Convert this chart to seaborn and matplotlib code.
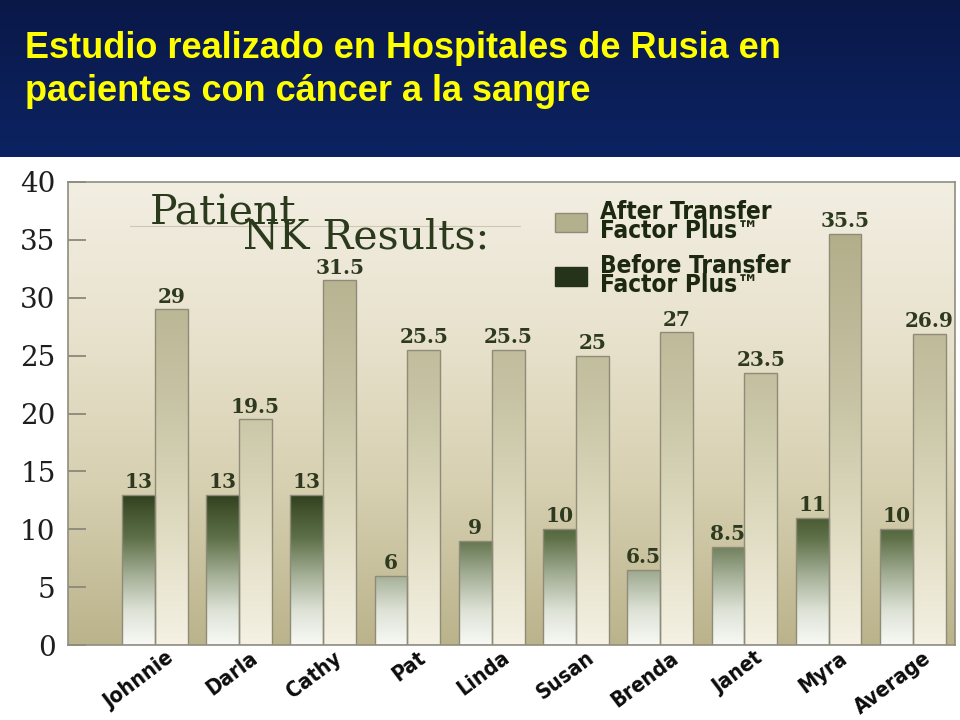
import numpy as np
import pandas as pd
import seaborn as sns
import matplotlib.pyplot as plt
from matplotlib.colors import LinearSegmentedColormap
from matplotlib.patches import Patch
from matplotlib.transforms import ScaledTranslation

# Data
patients = ['Johnnie', 'Darla', 'Cathy', 'Pat', 'Linda', 'Susan', 'Brenda', 'Janet', 'Myra', 'Average']
before = [13, 13, 13, 6, 9, 10, 6.5, 8.5, 11, 10]
after = [29, 19.5, 31.5, 25.5, 25.5, 25, 27, 23.5, 35.5, 26.9]
y_ticks = [0, 5, 10, 15, 20, 25, 30, 35, 40]

df = pd.DataFrame({
    'Patient': patients * 2,
    'NK': before + after,
    'When': ['Before'] * len(patients) + ['After'] * len(patients),
})

sns.set_style("white")
fig = plt.figure(figsize=(9.6, 7.2), dpi=100)

narrow = ['DejaVu Sans Condensed', 'Liberation Sans Narrow', 'DejaVu Sans']

# dark blue header band
head = fig.add_axes([0, 1 - 157 / 720, 1, 157 / 720])
head_cmap = LinearSegmentedColormap.from_list('head', ['#0a1848', '#0c2362'])
head.imshow(np.linspace(0, 1, 64).reshape(-1, 1), cmap=head_cmap, aspect='auto', extent=[0, 1, 0, 1])
head.axis('off')

title_font = dict(color='#ffff00', fontsize=26, fontweight='bold', family=['Liberation Sans', 'DejaVu Sans'])
fig.text(25 / 960, 1 - 58 / 720, 'Estudio realizado en Hospitales de Rusia en', **title_font)
fig.text(25 / 960, 1 - 101 / 720, 'pacientes con cáncer a la sangre', **title_font)

ax = fig.add_axes([68 / 960, 75 / 720, 887 / 960, 463 / 720])
sns.barplot(data=df, x='Patient', y='NK', hue='When', hue_order=['Before', 'After'],
            width=0.78, legend=False, ax=ax, edgecolor='#8e8b78', linewidth=1, saturation=1)

xlim = (-1.03, 9.5)
ylim = (0, 40)

# background gradient: cream at top, khaki at bottom
bg_cmap = LinearSegmentedColormap.from_list('bg', ['#bbb38b', '#d6cfb0', '#e8e2cd', '#f2eee2'])
ax.imshow(np.linspace(0, 1, 256).reshape(-1, 1), cmap=bg_cmap, origin='lower', aspect='auto',
          extent=[xlim[0], xlim[1], 0, 40], zorder=0)

before_cmap = LinearSegmentedColormap.from_list('before', [
    (0, '#f8f9f5'), (0.22, '#dde2d6'), (0.45, '#a3ae95'), (0.68, '#5f7149'),
    (0.85, '#44552f'), (1, '#2a381a')])
after_cmap = LinearSegmentedColormap.from_list('after', [
    (0, '#f5f1e4'), (0.3, '#dedabf'), (0.6, '#c6c2a3'), (1, '#b2ae8a')])

grad = np.linspace(0, 1, 256).reshape(-1, 1)
for cont, cmap, top in [(ax.containers[0], before_cmap, 13.5), (ax.containers[1], after_cmap, 36)]:
    for bar in cont:
        x0 = bar.get_x()
        w = bar.get_width()
        im = ax.imshow(grad, cmap=cmap, origin='lower', aspect='auto',
                       extent=[x0, x0 + w, 0, top], zorder=1.5)
        im.set_clip_path(bar)
        bar.set_facecolor('none')
        bar.set_zorder(2)
    ax.bar_label(cont, fmt='%g', padding=2, color='#2d3a1f', fontsize=14.5, fontweight='bold',
                 family=['DejaVu Serif'])

ax.set_xlim(*xlim)
ax.set_ylim(*ylim)
ax.set_yticks(y_ticks)
ax.set_yticklabels([str(t) for t in y_ticks], fontsize=20, family=['DejaVu Serif'], color='#1e1e1e')
ax.tick_params(axis='y', direction='in', length=13, width=1.3, color='#8a8878', pad=9, left=True)
ax.tick_params(axis='x', length=0, pad=2)
ax.set_xticks(range(len(patients)))
ax.set_xticklabels(patients, rotation=37, ha='right', va='top', rotation_mode='anchor',
                   fontsize=15.5, fontweight='heavy', fontstretch='condensed', family=narrow,
                   color='#0d0d0d')
for lab in ax.get_xticklabels():
    lab.set_transform(lab.get_transform() + ScaledTranslation(0.1, 0, fig.dpi_scale_trans))
ax.set_xlabel('')
ax.set_ylabel('')

for s in ax.spines.values():
    s.set_color('#8f8d7f')
    s.set_linewidth(1.2)
    s.set_visible(True)

# chart heading inside the plot
ax.plot([0.07, 0.51], [0.905, 0.905], transform=ax.transAxes, color='#cdc8b3', lw=0.8, zorder=1)
ax.text(0.0924, 0.909, 'Patient', transform=ax.transAxes, fontsize=29.5, color='#2b3a1c',
        family=['DejaVu Serif'], zorder=3)
ax.text(0.197, 0.856, 'NK Results:', transform=ax.transAxes, fontsize=29.5, color='#2b3a1c',
        family=['DejaVu Serif'], zorder=3)

handles = [Patch(facecolor='#b3b08e', edgecolor='#8e8b78'), Patch(facecolor='#25331a', edgecolor='#25331a')]
leg = ax.legend(handles, ['After Transfer\nFactor Plus\u2122', 'Before Transfer\nFactor Plus\u2122'],
                loc='upper left', bbox_to_anchor=(0.549, 0.962), frameon=False, borderpad=0,
                borderaxespad=0, handlelength=1.3, handleheight=0.85, handletextpad=0.55,
                labelspacing=0.45,
                prop=dict(family=narrow, weight='heavy', stretch='condensed', size=17.5))
for t in leg.get_texts():
    t.set_color('#1c2810')
    t.set_linespacing(0.75)

plt.savefig('out.png', dpi=100)
